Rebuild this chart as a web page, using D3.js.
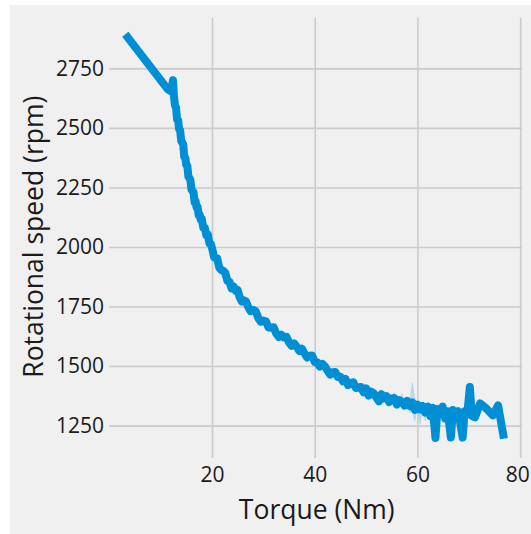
<!DOCTYPE html>
<html>
<head>
<meta charset="utf-8">
<script src="https://cdn.jsdelivr.net/npm/d3@7"></script>
<style>
  body { margin: 0; background: #fff; }
  text { font-family: "Open Sans", "Noto Sans", sans-serif; fill: #1a1a1a; }
</style>
</head>
<body>
<div class="container"></div>
<script>
// torque (Nm) and mean rotational speed (rpm)
const torque = [
  3.6, 11.4, 11.9, 12.2, 12.4, 12.6, 12.8, 13.0, 13.2, 13.4, 13.6, 13.8, 14.0, 14.2, 14.4, 14.6, 14.8,
  15.0, 15.2, 15.4, 15.6, 15.8, 16.0, 16.2, 16.4, 16.6, 16.8, 17.0, 17.2, 17.4, 17.6, 17.8, 18.0,
  18.3, 18.6, 18.9, 19.2, 19.5, 19.8, 20.1, 20.4, 20.7, 21.0, 21.4, 21.8, 22.2, 22.6, 23.0, 23.4,
  23.8, 24.2, 24.6, 25.0, 25.4, 25.8, 26.2, 26.6, 27.0, 27.5, 28.0, 28.5, 29.0, 29.5, 30.0, 30.5,
  31.0, 31.5, 32.0, 32.5, 33.0, 33.5, 34.0, 34.5, 35.0, 35.5, 36.0, 36.5, 37.0, 37.5, 38.0, 38.5,
  39.0, 39.5, 40.0, 40.5, 41.0, 41.5, 42.0, 42.5, 43.0, 43.5, 44.0, 44.5, 45.0, 45.5, 46.0, 46.5,
  47.0, 47.5, 48.0, 48.5, 49.0, 49.5, 50.0, 50.5, 51.0, 51.5, 52.0, 52.5, 53.0, 53.5, 54.0, 54.5,
  55.0, 55.5, 56.0, 56.5, 57.0, 57.5, 58.0, 58.5, 59.0, 59.5, 60.0, 60.5, 61.0, 61.5, 62.0, 62.5,
  63.0, 63.5, 63.9, 64.4, 64.9, 65.4, 65.9, 66.5, 66.9, 67.4, 67.9, 68.3, 68.8, 69.2, 69.7, 70.2,
  70.6, 71.2, 72.2, 73.4, 74.7, 75.7, 76.7
];
const rpm = [
  2880, 2662, 2655, 2672, 2700, 2630, 2595, 2585, 2535, 2533, 2494, 2490, 2446, 2439, 2430, 2378, 2374,
  2344, 2341, 2295, 2290, 2281, 2241, 2234, 2231, 2189, 2193, 2166, 2168, 2134, 2136, 2116, 2119,
  2081, 2081, 2050, 2052, 2014, 2012, 1987, 1957, 1953, 1953, 1914, 1903, 1900, 1891, 1857, 1854,
  1826, 1834, 1816, 1819, 1788, 1771, 1776, 1772, 1751, 1731, 1736, 1731, 1702, 1686, 1691, 1688,
  1662, 1661, 1663, 1637, 1622, 1632, 1620, 1623, 1599, 1585, 1595, 1581, 1563, 1573, 1554, 1536,
  1543, 1544, 1517, 1515, 1498, 1509, 1498, 1480, 1464, 1474, 1475, 1454, 1455, 1436, 1446, 1420,
  1428, 1432, 1408, 1410, 1412, 1390, 1406, 1376, 1392, 1385, 1369, 1352, 1382, 1364, 1373, 1349,
  1364, 1366, 1338, 1357, 1349, 1334, 1354, 1332, 1347, 1316, 1338, 1318, 1332, 1305, 1330, 1290,
  1325, 1198, 1320, 1300, 1330, 1280, 1310, 1200, 1315, 1295, 1310, 1265, 1200, 1310, 1300, 1412,
  1290, 1285, 1343, 1322, 1293, 1335, 1212
];
// confidence band where it sticks out from the line
const bandTorque = [14.4, 15.8, 17.4, 18.9, 19.5, 21.8, 23.4, 40.5, 51.5, 55.5, 57.0, 58.5, 59.0, 59.5, 60.5, 61.5, 62.5];
const bandLow    = [2395, 2245, 2115, 2025, 1985, 1880, 1830, 1500, 1365, 1340, 1330, 1305, 1310, 1270, 1255, 1270, 1255];
const bandHigh   = [2465, 2300, 2160, 2075, 2045, 1930, 1885, 1535, 1405, 1390, 1385, 1350, 1430, 1360, 1350, 1345, 1330];

const xTicks = [20, 40, 60, 80];
const yTicks = [1250, 1500, 1750, 2000, 2250, 2500, 2750];

const width = 531, height = 534;
const plot = { left: 109, right: 522, top: 17.4, bottom: 458 };

const data = torque.map((t, i) => {
  const b = bandTorque.indexOf(t);
  return { t: t, v: rpm[i], lo: b >= 0 ? bandLow[b] : rpm[i], hi: b >= 0 ? bandHigh[b] : rpm[i] };
});

const pad = (lo, hi) => [lo - (hi - lo) * 0.05, hi + (hi - lo) * 0.05];

let svg = d3.select(".container")
  .append("svg")
  .attr("width", width)
  .attr("height", height);

svg.append("rect")
  .attr("x", 10).attr("y", 5)
  .attr("width", width - 10).attr("height", height - 5)
  .attr("fill", "#f0f0f0");

let x = d3.scaleLinear()
  .domain(pad(d3.min(data, d => d.t), d3.max(data, d => d.t)))
  .range([plot.left, plot.right]);

let y = d3.scaleLinear()
  .domain(pad(d3.min(data, d => d.lo), d3.max(data, d => d.hi)))
  .range([plot.bottom, plot.top]);

// grid
svg.append("g")
  .attr("transform", `translate(0, ${plot.bottom})`)
  .call(d3.axisBottom(x).tickValues(xTicks).tickSize(-(plot.bottom - plot.top)).tickPadding(9).tickFormat(d3.format("d")))
  .call(g => g.select(".domain").remove())
  .call(g => g.selectAll("line").attr("stroke", "#cbcbcb").attr("stroke-width", 1.6))
  .call(g => g.selectAll("text").attr("font-size", 21).attr("fill", "#1a1a1a"))
  .call(g => g.selectAll("text").filter(d => d === 80).attr("dx", -3));

svg.append("g")
  .attr("transform", `translate(${plot.left}, 0)`)
  .call(d3.axisLeft(y).tickValues(yTicks).tickSize(-(plot.right - plot.left)).tickPadding(5).tickFormat(d3.format("d")))
  .call(g => g.select(".domain").remove())
  .call(g => g.selectAll("line").attr("stroke", "#cbcbcb").attr("stroke-width", 1.6))
  .call(g => g.selectAll("text").attr("font-size", 21).attr("fill", "#1a1a1a"));

// band
svg.append("path")
  .datum(data)
  .attr("fill", "#008fd5")
  .attr("fill-opacity", 0.2)
  .attr("stroke", "#008fd5")
  .attr("stroke-opacity", 0.15)
  .attr("stroke-width", 1)
  .attr("d", d3.area().x(d => x(d.t)).y0(d => y(d.lo)).y1(d => y(d.hi)));

// mean line
svg.append("path")
  .datum(data)
  .attr("fill", "none")
  .attr("stroke", "#008fd5")
  .attr("stroke-width", 8)
  .attr("stroke-linejoin", "round")
  .attr("stroke-linecap", "square")
  .attr("d", d3.line().x(d => x(d.t)).y(d => y(d.v)));

// axis labels
svg.append("text")
  .attr("x", (x(20) + x(60)) / 2 + 2)
  .attr("y", 519)
  .attr("text-anchor", "middle")
  .attr("font-size", 26.5)
  .text("Torque (Nm)");

svg.append("text")
  .attr("transform", `translate(43, ${(plot.top + plot.bottom) / 2 - 1}) rotate(-90)`)
  .attr("text-anchor", "middle")
  .attr("font-size", 26.5)
  .text("Rotational speed (rpm)");
</script>
</body>
</html>
